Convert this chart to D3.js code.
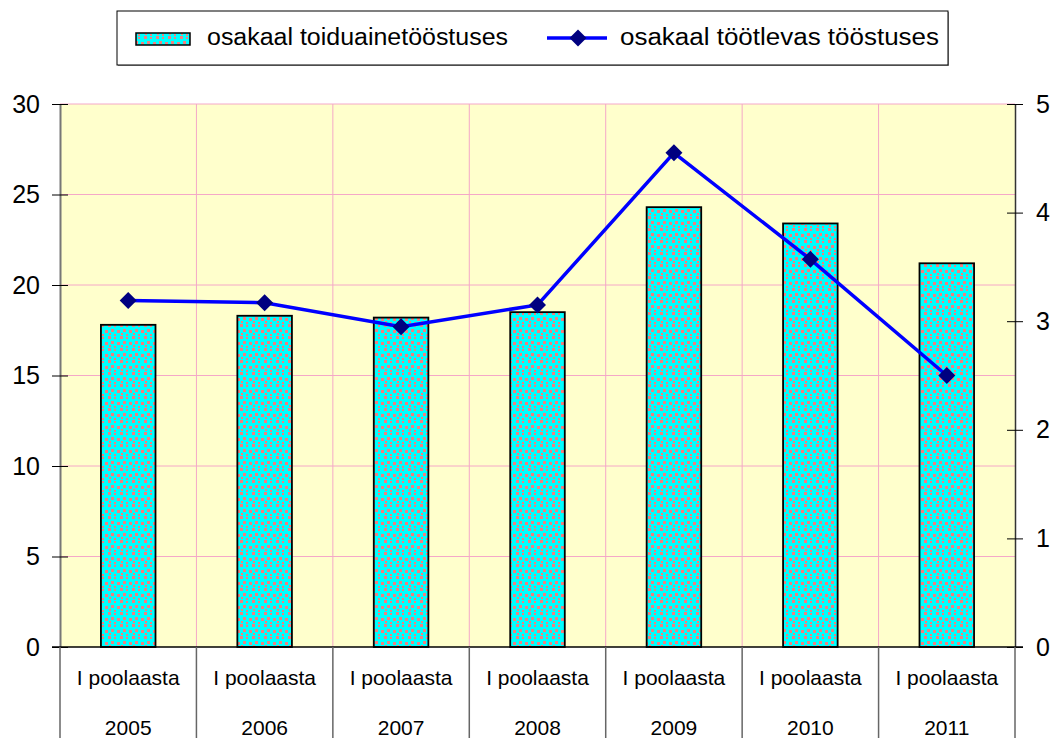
<!DOCTYPE html>
<html><head><meta charset="utf-8">
<script src="https://cdn.jsdelivr.net/npm/d3@7"></script>
<style>body{margin:0;background:#fff}svg{display:block;font-family:"Liberation Sans",Arial,sans-serif}</style>
</head><body>
<svg id="c" width="1054" height="738"></svg>
<script>
const categories = ["2005","2006","2007","2008","2009","2010","2011"];
const periodLabel = "I poolaasta";
const foodShare = [17.8, 18.3, 18.2, 18.5, 24.3, 23.4, 21.2];
const manufShare = [3.19, 3.17, 2.95, 3.15, 4.55, 3.57, 2.50];
const leftTicks = [0,5,10,15,20,25,30];
const rightTicks = [0,1,2,3,4,5];
const seriesNames = ["osakaal toiduainetööstuses","osakaal töötlevas tööstuses"];

const svg = d3.select("#c");
const L = 60, R = 1015, T = 104, B = 647;

const defs = svg.append("defs");
const pat = defs.append("pattern").attr("id","dots").attr("patternUnits","userSpaceOnUse")
  .attr("width",12).attr("height",12);
pat.append("rect").attr("width",12).attr("height",12).attr("fill","#00FFFF");
[[0,0,3],[6,1,2],[3,5,3],[9,6,3],[1,9,2],[6,10,2]].forEach(([x,y,s])=>{
  pat.append("rect").attr("x",x).attr("y",y).attr("width",s).attr("height",s)
    .attr("fill","#F08080").attr("shape-rendering","crispEdges");
});

const x = d3.scaleBand().domain(categories).range([L,R]).paddingInner(0).paddingOuter(0);
const yL = d3.scaleLinear().domain([0,30]).range([B,T]);
const yR = d3.scaleLinear().domain([0,5]).range([B,T]);

svg.append("rect").attr("x",L).attr("y",T).attr("width",R-L).attr("height",B-T).attr("fill","#FFFFCC");

// grid
svg.append("g").selectAll("line").data(leftTicks.slice(1)).join("line")
  .attr("x1",L).attr("x2",R).attr("y1",d=>yL(d)).attr("y2",d=>yL(d))
  .attr("stroke","#F4A8C8").attr("stroke-width",1);
svg.append("g").selectAll("line").data(categories.slice(1)).join("line")
  .attr("x1",d=>x(d)).attr("x2",d=>x(d)).attr("y1",T).attr("y2",B)
  .attr("stroke","#F4A8C8").attr("stroke-width",1);

// bars
const bw = x.bandwidth()*0.4;
svg.append("g").selectAll("rect").data(foodShare).join("rect")
  .attr("x",(d,i)=>x(categories[i])+x.bandwidth()/2-bw/2)
  .attr("y",d=>yL(d)).attr("width",bw).attr("height",d=>B-yL(d))
  .attr("fill","url(#dots)").attr("stroke","#000").attr("stroke-width",1.8);

// axes
const axL = d3.axisLeft(yL).tickValues(leftTicks).tickFormat(d3.format("d")).tickSizeInner(8).tickSizeOuter(0);
const gL = svg.append("g").attr("transform",`translate(${L},0)`).call(axL);
gL.selectAll(".tick line").attr("x2",-8).attr("x1",8).attr("stroke","#000");
gL.select(".domain").attr("stroke","#777").attr("stroke-width",2);
gL.selectAll("text").attr("font-size",25).attr("fill","#000").attr("x",-20);

const axR = d3.axisRight(yR).tickValues(rightTicks).tickFormat(d3.format("d")).tickSizeInner(8).tickSizeOuter(0);
const gR = svg.append("g").attr("transform",`translate(${R},0)`).call(axR);
gR.selectAll(".tick line").attr("x1",-8).attr("x2",8).attr("stroke","#000");
gR.select(".domain").attr("stroke","#333").attr("stroke-width",1.5);
gR.selectAll("text").attr("font-size",25).attr("fill","#000").attr("x",21);

// bottom axis
svg.append("line").attr("x1",L-8).attr("x2",R+8).attr("y1",B).attr("y2",B).attr("stroke","#000").attr("stroke-width",1.5);
const dividers = categories.map(c=>x(c)).concat([R]);
svg.append("g").selectAll("line").data(dividers).join("line")
  .attr("x1",d=>d).attr("x2",d=>d).attr("y1",B).attr("y2",738)
  .attr("stroke","#666").attr("stroke-width",1.5);
const gx = svg.append("g");
gx.selectAll("text.p").data(categories).join("text").attr("class","p")
  .attr("x",d=>x(d)+x.bandwidth()/2).attr("y",685).attr("text-anchor","middle")
  .attr("font-size",21).text(periodLabel);
gx.selectAll("text.y").data(categories).join("text").attr("class","y")
  .attr("x",d=>x(d)+x.bandwidth()/2).attr("y",735).attr("text-anchor","middle")
  .attr("font-size",21).text(d=>d);

// line
const line = d3.line().x((d,i)=>x(categories[i])+x.bandwidth()/2).y(d=>yR(d));
svg.append("path").datum(manufShare).attr("d",line).attr("fill","none")
  .attr("stroke","#0000FF").attr("stroke-width",3.5);
svg.append("g").selectAll("path").data(manufShare).join("path")
  .attr("transform",(d,i)=>`translate(${x(categories[i])+x.bandwidth()/2},${yR(d)})`)
  .attr("d","M0,-8.5L8.5,0L0,8.5L-8.5,0Z").attr("fill","#000080");

// legend
const lg = svg.append("g");
lg.append("rect").attr("x",118).attr("y",12).attr("width",831).attr("height",54).attr("fill","#999");
lg.append("rect").attr("x",117).attr("y",11).attr("width",831).attr("height",54).attr("fill","#fff").attr("stroke","#000").attr("stroke-width",1);
lg.append("rect").attr("x",136).attr("y",33).attr("width",54).attr("height",12).attr("fill","url(#dots)").attr("stroke","#000").attr("stroke-width",1.5);
lg.append("text").attr("x",207).attr("y",45).attr("font-size",23)
  .attr("textLength",301).attr("lengthAdjust","spacingAndGlyphs").text(seriesNames[0]);
lg.append("line").attr("x1",547).attr("x2",607).attr("y1",38).attr("y2",38).attr("stroke","#0000FF").attr("stroke-width",3.5);
lg.append("path").attr("transform","translate(578,38)").attr("d","M0,-8.5L8.5,0L0,8.5L-8.5,0Z").attr("fill","#000080");
lg.append("text").attr("x",620).attr("y",45).attr("font-size",23)
  .attr("textLength",319).attr("lengthAdjust","spacingAndGlyphs").text(seriesNames[1]);
</script>
</body></html>
